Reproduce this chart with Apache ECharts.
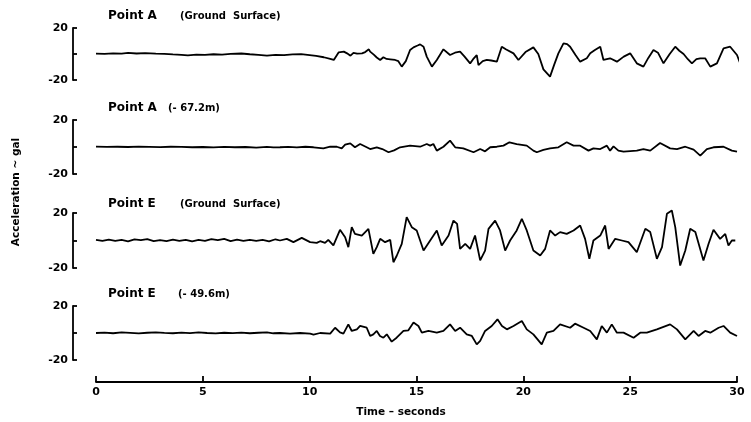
<!DOCTYPE html>
<html>
<head>
<meta charset="utf-8">
<script src="https://cdn.jsdelivr.net/npm/echarts@6/dist/echarts.min.js"></script>
<style>html,body{margin:0;padding:0;background:#fff}#c{width:751px;height:422px}</style>
</head>
<body>
<div id="c"></div>
<script>
// ---- data ----
var xTicks = [0, 5, 10, 15, 20, 25, 30];
var yTicks = [-20, 0, 20];
var panelNames = ['Point A', 'Point A', 'Point E', 'Point E'];
var panelSubs = ['(Ground  Surface)', '(- 67.2m)', '(Ground  Surface)', '(- 49.6m)'];
var xTitle = 'Time \u2013 seconds';
var yTitle = 'Acceleration ~ gal';

var pointAGround = [[0,0.3],[0.4,0.1],[0.8,0.5],[1.2,0.3],[1.5,0.9],[1.9,0.4],[2.3,0.6],[2.8,0.3],[3.2,0.1],[3.6,-0.3],[4.0,-0.6],[4.3,-1.1],[4.7,-0.5],[5.1,-0.7],[5.5,-0.2],[5.9,-0.5],[6.3,0.1],[6.8,0.4],[7.2,-0.2],[7.6,-0.6],[8.0,-1.3],[8.4,-0.7],[8.8,-0.9],[9.2,-0.3],[9.6,-0.1],[10.0,-0.8],[10.3,-1.5],[10.66,-2.5],[10.96,-3.8],[11.13,-4.6],[11.36,1.3],[11.6,1.8],[11.75,0.5],[11.91,-1.3],[12.05,0.8],[12.22,0.3],[12.45,0.5],[12.6,1.5],[12.77,3.6],[12.83,1.8],[13.0,-0.5],[13.14,-2.7],[13.3,-4.6],[13.45,-2.5],[13.6,-3.8],[13.77,-4.1],[14.0,-4.6],[14.15,-5.5],[14.31,-9.7],[14.5,-5.5],[14.7,3.1],[14.86,5.1],[15.05,6.5],[15.17,7.4],[15.33,5.6],[15.48,-2],[15.72,-9.7],[15.95,-4.6],[16.26,3.6],[16.57,-0.8],[16.8,1.0],[17.04,1.8],[17.25,-2.0],[17.51,-7.2],[17.65,-4],[17.82,-0.8],[17.9,-8.5],[18.1,-5.5],[18.29,-4.6],[18.5,-5.0],[18.76,-5.9],[18.99,5.6],[19.2,3.5],[19.54,0.5],[19.77,-4.6],[20.1,1.5],[20.47,5.1],[20.7,0],[20.94,-11.8],[21.25,-17.4],[21.45,-8],[21.64,0.5],[21.88,8.2],[22.05,7.6],[22.19,5.6],[22.45,-1],[22.66,-5.9],[22.97,-3.3],[23.13,0.5],[23.35,3],[23.6,5.6],[23.75,-4.6],[24.06,-3.3],[24.38,-5.9],[24.7,-2],[25.0,0.5],[25.31,-7.2],[25.62,-9.7],[25.85,-3],[26.09,3.1],[26.3,1],[26.56,-7.2],[26.85,0],[27.11,5.6],[27.3,2.5],[27.5,0],[27.7,-4],[27.89,-7.2],[28.1,-4],[28.28,-3.3],[28.51,-3.3],[28.75,-9.7],[29.06,-7.2],[29.37,4.4],[29.68,5.6],[30.0,-0.8],[30.15,-7.2]];

var pointADeep = [[0,0.3],[0.5,0.1],[1,0.2],[1.5,0],[2,0.3],[2.5,0.1],[3,-0.1],[3.5,0.2],[4,0.1],[4.5,-0.2],[5,0],[5.5,-0.3],[6,0.1],[6.5,-0.2],[7,0],[7.5,-0.4],[8,0.1],[8.3,-0.3],[8.61,-0.2],[9.0,0.1],[9.4,-0.3],[9.8,0.2],[10.18,-0.2],[10.64,-1.0],[10.96,0.2],[11.27,0.2],[11.5,-1.0],[11.66,1.7],[11.9,2.7],[12.12,-0.2],[12.36,2.2],[12.67,-0.2],[12.83,-1.5],[13.14,-0.2],[13.4,-1.5],[13.69,-3.9],[13.95,-2.5],[14.23,-0.2],[14.7,1.0],[15.17,0.2],[15.48,2.2],[15.64,1.0],[15.79,2.2],[15.95,-2.7],[16.26,0.2],[16.57,4.7],[16.81,-0.2],[17.19,-1.0],[17.67,-3.9],[17.98,-1.5],[18.21,-3.2],[18.45,-0.2],[18.76,0.2],[19.07,1.0],[19.35,3.5],[19.69,2.2],[20.16,1.0],[20.47,-2.7],[20.63,-3.9],[20.94,-2.2],[21.25,-1.0],[21.64,-0.2],[22.03,3.5],[22.35,1.0],[22.66,1.0],[23.05,-2.7],[23.28,-1.0],[23.6,-1.5],[23.91,1.0],[24.06,-2.7],[24.22,0.5],[24.45,-2.7],[24.69,-3.5],[25.31,-2.7],[25.62,-1.5],[25.94,-2.7],[26.4,3.0],[26.87,-1.0],[27.19,-1.5],[27.58,0.2],[27.97,-2.0],[28.28,-6.4],[28.59,-1.5],[28.9,-0.2],[29.37,0.2],[29.76,-2.7],[30.0,-3.5]];

var pointEGround = [[0,0.5],[0.3,-0.3],[0.6,0.6],[0.9,-0.2],[1.2,0.4],[1.5,-0.6],[1.8,0.8],[2.1,0.2],[2.4,1.0],[2.7,-0.4],[3.0,0.3],[3.3,-0.5],[3.6,0.7],[3.9,-0.2],[4.2,0.5],[4.5,-0.6],[4.8,0.4],[5.1,-0.3],[5.4,1.0],[5.7,0.2],[6.0,1.2],[6.3,-0.4],[6.6,0.6],[6.9,-0.3],[7.2,0.5],[7.5,-0.2],[7.8,0.4],[8.1,-0.6],[8.4,0.9],[8.61,0],[8.93,1.2],[9.24,-1.2],[9.63,1.9],[10.02,-1.2],[10.33,-1.7],[10.49,-0.5],[10.72,-1.7],[10.87,0.5],[11.11,-3.6],[11.42,7.8],[11.66,2.4],[11.81,-4.8],[11.97,9.7],[12.12,4.8],[12.44,3.6],[12.75,8.5],[12.83,7.3],[12.98,-9.7],[13.14,-4.8],[13.3,1.2],[13.53,-1.2],[13.77,0.5],[13.92,-15.8],[14.08,-10.9],[14.31,-2.4],[14.54,17.0],[14.78,9.7],[15.01,7.3],[15.33,-7.3],[15.64,0],[15.95,7.3],[16.18,-3.6],[16.5,3.6],[16.73,14.5],[16.9,12.1],[17.04,-6.1],[17.28,-2.4],[17.51,-6.1],[17.74,3.6],[17.98,-14.5],[18.21,-7.3],[18.37,8.5],[18.68,14.5],[18.91,7.3],[19.15,-7.3],[19.38,0],[19.69,7.3],[19.93,15.8],[20.16,7.3],[20.47,-7.3],[20.79,-10.9],[21.02,-6.1],[21.25,7.3],[21.49,3.6],[21.72,6.1],[22.03,4.8],[22.35,7.3],[22.66,10.9],[22.89,1.2],[23.09,-13.3],[23.28,0],[23.6,3.6],[23.83,10.9],[23.99,-6.1],[24.3,1.2],[24.61,0],[24.92,-1.2],[25.31,-8.5],[25.71,8.5],[25.94,6.1],[26.25,-13.3],[26.49,-4.8],[26.72,19.4],[26.95,21.8],[27.11,9.7],[27.34,-18.2],[27.58,-7.3],[27.81,8.5],[28.05,6.1],[28.43,-14.5],[28.67,-2.4],[28.9,7.8],[29.21,1.2],[29.45,4.8],[29.6,-3.6],[29.76,0],[29.92,0]];

var pointEDeep = [[0,0],[0.4,0.3],[0.8,-0.2],[1.2,0.4],[1.6,0.1],[2.0,-0.3],[2.4,0.2],[2.8,0.5],[3.2,0.1],[3.6,-0.2],[4.0,0.3],[4.4,-0.1],[4.8,0.4],[5.2,0],[5.6,-0.3],[6.0,0.2],[6.4,-0.1],[6.8,0.3],[7.2,-0.2],[7.6,0.2],[8.0,0.4],[8.3,-0.2],[8.61,0],[9.08,-0.5],[9.55,0],[10.02,-0.5],[10.18,-1.2],[10.49,0],[10.96,-0.5],[11.19,3.9],[11.42,0.5],[11.58,-0.5],[11.81,6.4],[11.97,1.5],[12.21,2.7],[12.36,5.2],[12.67,3.9],[12.83,-2.2],[12.98,-1.0],[13.14,1.5],[13.29,-2.2],[13.45,-3.5],[13.61,-1.0],[13.84,-6.4],[14.07,-3.5],[14.39,1.5],[14.62,2.0],[14.86,7.7],[15.09,5.2],[15.25,0.25],[15.56,1.5],[15.95,0.25],[16.26,1.5],[16.57,6.4],[16.81,1.5],[17.04,3.9],[17.35,-1.0],[17.59,-2.2],[17.82,-8.4],[17.98,-5.9],[18.21,1.5],[18.52,5.2],[18.79,10.1],[19.0,5.2],[19.23,2.7],[19.54,5.2],[19.93,8.9],[20.16,2.7],[20.47,-1.0],[20.86,-8.4],[21.1,0.25],[21.41,1.5],[21.72,6.4],[22.19,3.9],[22.42,6.9],[22.82,3.9],[23.13,1.5],[23.44,-4.7],[23.67,5.2],[23.91,0.25],[24.14,6.4],[24.38,0.25],[24.69,0.25],[25.16,-3.5],[25.47,0.25],[25.78,0.25],[26.25,2.7],[26.87,6.4],[27.19,2.7],[27.58,-4.7],[27.97,1.5],[28.2,-2.2],[28.51,1.5],[28.75,0.25],[29.14,3.9],[29.37,5.2],[29.68,0.25],[30.0,-2.2]];

var seriesData = [pointAGround, pointADeep, pointEGround, pointEDeep];

// ---- layout ----
var gridTops = [28, 120, 213, 306];
var gridHeights = [52, 54, 55, 54];
var titleYs = [17, 109, 205, 295];
var subXs = [180, 168, 180, 178];
var FONT = '"DejaVu Sans", sans-serif';

var grids = [], xAxes = [], yAxes = [], series = [], graphics = [];
for (var i = 0; i < 4; i++) {
  grids.push({left: 96, right: 14, top: gridTops[i], height: gridHeights[i]});
  var last = i === 3;
  xAxes.push({
    type: 'value', gridIndex: i, min: xTicks[0], max: xTicks[xTicks.length - 1], interval: 5,
    show: last, offset: last ? 22 : 0, position: 'bottom',
    axisLine: {show: true, onZero: false, lineStyle: {color: '#000', width: 1.8}},
    axisTick: {show: true, inside: true, length: 6, lineStyle: {color: '#000', width: 1.8}},
    axisLabel: {show: true, color: '#000', fontSize: 11, fontWeight: 'bold', fontFamily: FONT, margin: 5},
    splitLine: {show: false}
  });
  yAxes.push({
    type: 'value', gridIndex: i, min: yTicks[0], max: yTicks[2], interval: 20, offset: 23,
    position: 'left',
    axisLine: {show: true, onZero: false, lineStyle: {color: '#000', width: 1.8}},
    axisTick: {show: true, inside: true, length: 4, lineStyle: {color: '#000', width: 1.8}},
    axisLabel: {color: '#000', fontSize: 11, fontWeight: 'bold', fontFamily: FONT, margin: 5,
      formatter: function (v) { return v === 0 ? '' : String(v); }},
    splitLine: {show: false}
  });
  series.push({
    type: 'line', xAxisIndex: i, yAxisIndex: i, data: seriesData[i], showSymbol: false,
    clip: false, lineStyle: {color: '#000', width: 1.8}, animation: false
  });
  graphics.push({type: 'text', left: 108, top: titleYs[i] - 7,
    style: {text: panelNames[i], font: 'bold 12px ' + FONT, fill: '#000'}});
  graphics.push({type: 'text', left: subXs[i], top: titleYs[i] - 6,
    style: {text: panelSubs[i], font: 'bold 10px ' + FONT, fill: '#000'}});
}
graphics.push({type: 'text', x: 401, y: 412,
  style: {text: xTitle, font: 'bold 10.5px ' + FONT, fill: '#000', align: 'center', verticalAlign: 'middle'}});
graphics.push({type: 'text', x: 16, y: 192, rotation: Math.PI / 2,
  style: {text: yTitle, font: 'bold 10.5px ' + FONT, fill: '#000', align: 'center', verticalAlign: 'middle'}});

var chart = echarts.init(document.getElementById('c'), null, {renderer: 'canvas'});
chart.setOption({
  backgroundColor: '#fff',
  animation: false,
  grid: grids, xAxis: xAxes, yAxis: yAxes, series: series, graphic: graphics
});
</script>
</body>
</html>
